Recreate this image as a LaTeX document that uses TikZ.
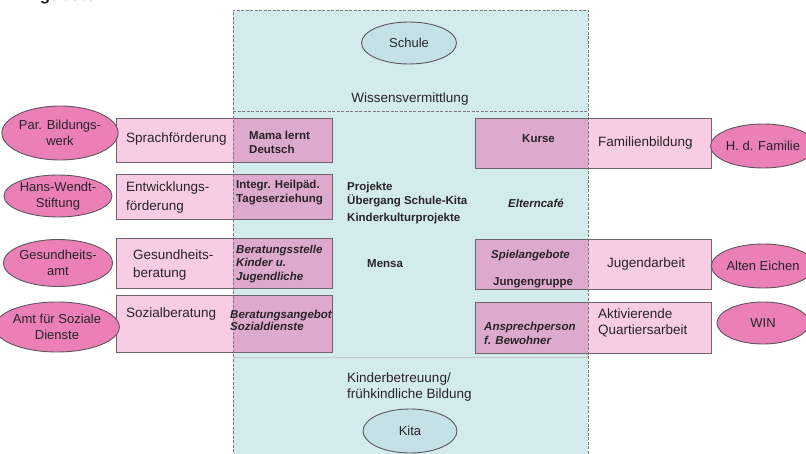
\documentclass[tikz,border=0pt]{standalone}
\usepackage{fontspec}
\setmainfont{Liberation Sans}
\usetikzlibrary{shapes.geometric}
\definecolor{bluebg}{RGB}{211,235,237}
\definecolor{blueell}{RGB}{196,226,230}
\definecolor{pinklt}{RGB}{248,204,228}
\definecolor{pinkdk}{RGB}{221,170,204}
\definecolor{pinkell}{RGB}{234,128,182}
\definecolor{edge}{RGB}{95,85,95}
\definecolor{boxedge}{RGB}{110,100,110}
\definecolor{txt}{RGB}{40,35,40}
\begin{document}
\begin{tikzpicture}[x=1pt,y=-1pt,
  every node/.style={text=txt},
  ell/.style={ellipse, draw=edge, line width=0.9pt, fill=pinkell, inner sep=0pt,
    align=center, font=\fontsize{13}{16}\selectfont},
  bell/.style={ellipse, draw=edge, line width=0.9pt, fill=blueell, inner sep=0pt,
    align=center, font=\fontsize{13}{16}\selectfont},
  pbox/.style={fill=pinklt, inner sep=0pt, anchor=north west},
  outer/.style={font=\fontsize{13.5}{19}\selectfont, align=left, anchor=west, inner sep=0pt},
  inner/.style={font=\bfseries\fontsize{11.5}{14}\selectfont, align=left, anchor=west, inner sep=0pt},
  inneri/.style={font=\bfseries\itshape\fontsize{11.5}{13.5}\selectfont, align=left, anchor=west, inner sep=0pt},
  border/.style={draw=boxedge, line width=0.9pt},
  bline/.style={draw=edge!80, line width=0.8pt, dash pattern=on 3pt off 1.5pt}
]
\useasboundingbox (0,0) rectangle (806,454);
% title (cut off at top, as in the reference)
\node[font=\bfseries\fontsize{17}{20}\selectfont, anchor=base west, inner sep=0pt] (title) at (17,1) {Angebote};
% central blue area
\fill[bluebg] (233,10) rectangle (588,470);
\draw[gray!45, line width=0.5pt] (233,357) -- (588,357);
% pink boxes
\node[pbox, minimum width=216pt, minimum height=44pt] (l1) at (116,118) {};
\node[pbox, minimum width=216pt, minimum height=45pt] (l2) at (116,174) {};
\node[pbox, minimum width=216pt, minimum height=50pt] (l3) at (116,238) {};
\node[pbox, minimum width=216pt, minimum height=57pt] (l4) at (116,295) {};
\node[pbox, minimum width=236pt, minimum height=50pt] (r1) at (475,118) {};
\node[pbox, minimum width=236pt, minimum height=50pt] (r3) at (475,239) {};
\node[pbox, minimum width=236pt, minimum height=51pt] (r4) at (475,302) {};
% overlaps
\foreach \b in {l1,l2,l3,l4}{\fill[pinkdk] (233,0 |- \b.north) rectangle (\b.south east);}
\foreach \b in {r1,r3,r4}{\fill[pinkdk] (\b.north west) rectangle (588,0 |- \b.south);}
% blue borders
\draw[bline] (233,470) -- (233,10) -- (588,10) -- (588,470);
\draw[bline] (233,111) -- (588,111);
% box borders
\foreach \b in {l1,l2,l3,l4,r1,r3,r4}{\draw[border] (\b.north west) rectangle (\b.south east);}
% blue ellipses
\node[bell, minimum width=95pt, minimum height=42pt] (schule) at (409,43) {Schule};
\node[bell, minimum width=94pt, minimum height=44pt] (kita) at (410,431) {Kita};
\node[font=\fontsize{13.5}{17}\selectfont, inner sep=0pt] (wissen) at (410,99) {Wissensvermittlung};
\node[outer, font=\fontsize{13.5}{16.5}\selectfont] (kinderb) at (347,387) {Kinderbetreuung/\\frühkindliche Bildung};
% left ellipses
\node[ell, minimum width=96pt, minimum height=54pt] (e1) at (60,133) {Par. Bildungs-\\werk};
\node[ell, minimum width=94pt, minimum height=42pt] (e2) at (58,196) {Hans-Wendt-\\Stiftung};
\node[ell, minimum width=94pt, minimum height=47pt] (e3) at (58,263) {Gesundheits-\\amt};
\node[ell, minimum width=104pt, minimum height=50pt] (e4) at (57,327) {Amt für Soziale\\Dienste};
% right ellipses
\node[ell, minimum width=92pt, minimum height=44pt] (e5) at (763,146) {H. d. Familie};
\node[ell, minimum width=92pt, minimum height=44pt] (e6) at (763,266) {Alten Eichen};
\node[ell, minimum width=92pt, minimum height=42pt] (e7) at (763,323) {WIN};
% left box texts
\node[outer] (t1) at (126,139) {Sprachförderung};
\node[outer] (t2) at (126,198) {Entwicklungs-\\förderung};
\node[outer, font=\fontsize{13.5}{18}\selectfont] (t3) at (133,265) {Gesundheits-\\beratung};
\node[outer] (t4) at (126,314) {Sozialberatung};
\node[inner] (i1) at (249,142) {Mama lernt\\Deutsch};
\node[inner] (i2) at (236,193) {Integr. Heilpäd.\\Tageserziehung};
\node[inneri] (i3) at (236,264) {Beratungsstelle\\Kinder u.\\Jugendliche};
\node[inneri, font=\bfseries\itshape\fontsize{11.5}{12}\selectfont] (i4) at (230,320) {Beratungsangebot\\Sozialdienste};
% centre texts
\node[inner] (c1) at (347,195) {Projekte\\Übergang Schule-Kita};
\node[inner] (c2) at (347,219) {Kinderkulturprojekte};
\node[inner] (c3) at (367,264) {Mensa};
\node[inneri] (c4) at (508,203) {Elterncafé};
% right box texts
\node[inner] (k1) at (522,139) {Kurse};
\node[inneri] (k2) at (491,256) {Spielangebote};
\node[inner] (k3) at (493,283) {Jungengruppe};
\node[inneri, font=\bfseries\itshape\fontsize{11.5}{14}\selectfont] (k4) at (484,333) {Ansprechperson\\f. Bewohner};
\node[outer] (o1) at (598,143) {Familienbildung};
\node[outer] (o2) at (607,264) {Jugendarbeit};
\node[outer, font=\fontsize{13.5}{16.5}\selectfont] (o3) at (598,323) {Aktivierende\\Quartiersarbeit};
\end{tikzpicture}
\end{document}
